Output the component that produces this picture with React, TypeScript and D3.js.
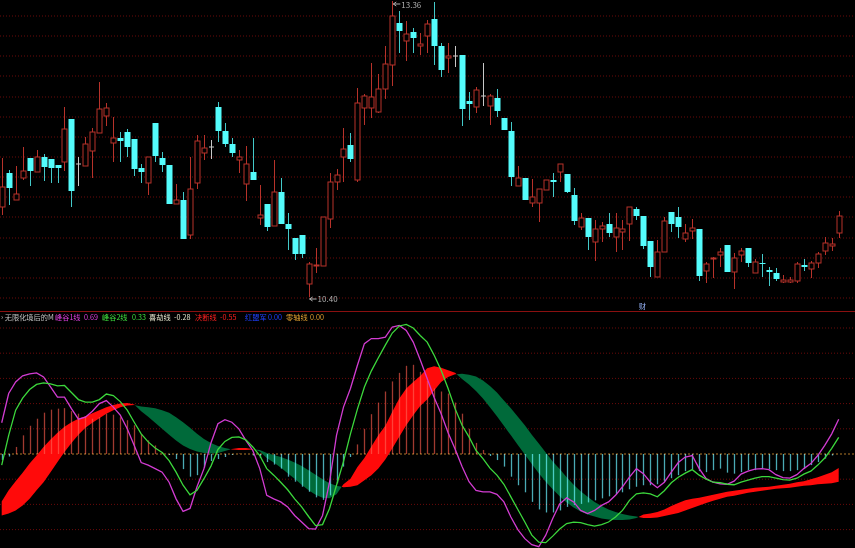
import React from 'react';
import * as d3 from 'd3';

const W = 855;
const H = 548;

// ---------- price candles (index 0..120) ----------
const openP = [
  11.30, 11.64, 11.37, 11.59, 11.79, 11.65, 11.80, 11.78, 11.72, 11.75,
  12.18, 11.73, 11.71, 11.86, 12.04, 12.21, 11.94, 11.99, 12.05, 11.98,
  11.69, 11.54, 12.14, 11.79, 11.72, 11.33, 11.37, 11.02, 11.54, 11.84,
  11.90, 12.30, 12.06, 11.93, 11.77, 11.53, 11.65, 11.19, 11.33, 11.11,
  11.45, 11.13, 10.99, 11.02, 10.53, 10.71, 10.71, 11.18, 11.55, 11.80,
  11.92, 11.57, 12.29, 12.29, 12.25, 12.48, 12.72, 13.14, 12.96, 13.05,
  12.91, 13.01, 13.18, 12.91, 12.79, 12.81, 12.82, 12.36, 12.30, 12.41,
  12.31, 12.39, 12.19, 12.06, 11.51, 11.59, 11.34, 11.34, 11.47, 11.57,
  11.65, 11.63, 11.42, 11.10, 11.19, 10.95, 11.08, 11.13, 11.00, 11.05,
  11.13, 11.28, 11.21, 10.96, 10.60, 10.85, 11.25, 11.20, 10.98, 11.06,
  11.08, 10.66, 10.78, 10.82, 10.92, 10.65, 10.82, 10.89, 10.64, 10.74,
  10.67, 10.64, 10.55, 10.55, 10.56, 10.72, 10.68, 10.74, 10.86, 10.91,
  11.04,
];
const closeP = [
  11.50, 11.49, 11.43, 11.66, 11.66, 11.80, 11.70, 11.69, 11.69, 12.08,
  11.46, 11.73, 11.93, 12.05, 12.28, 12.29, 11.99, 11.96, 11.90, 11.68,
  11.65, 11.80, 11.81, 11.72, 11.33, 11.37, 10.98, 11.48, 11.96, 11.89,
  11.90, 12.06, 11.93, 11.84, 11.80, 11.73, 11.57, 11.22, 11.10, 11.45,
  11.13, 11.08, 10.83, 10.83, 10.73, 10.72, 11.20, 11.55, 11.62, 11.88,
  11.78, 12.34, 12.41, 12.40, 12.48, 12.73, 13.21, 13.06, 13.03, 12.99,
  12.93, 13.13, 12.91, 12.67, 12.81, 12.81, 12.28, 12.33, 12.47, 12.41,
  12.41, 12.26, 12.07, 11.60, 11.59, 11.37, 11.40, 11.48, 11.57, 11.55,
  11.73, 11.45, 11.16, 11.19, 11.00, 11.08, 11.11, 11.04, 11.09, 11.08,
  11.30, 11.21, 10.91, 10.70, 10.85, 11.16, 11.13, 11.10, 11.04, 11.09,
  10.61, 10.73, 10.79, 10.85, 10.65, 10.79, 10.86, 10.74, 10.75, 10.73,
  10.65, 10.58, 10.57, 10.57, 10.73, 10.70, 10.74, 10.83, 10.94, 10.93,
  11.21,
];
const highP = [
  11.79, 11.67, 11.71, 11.90, 11.79, 11.87, 11.83, 11.78, 11.72, 12.30,
  12.18, 11.80, 12.00, 12.09, 12.55, 12.34, 12.20, 12.05, 12.08, 11.98,
  11.73, 11.80, 12.14, 11.85, 11.72, 11.53, 11.45, 11.80, 12.02, 12.02,
  11.97, 12.35, 12.14, 11.99, 11.87, 11.91, 11.99, 11.52, 11.33, 11.77,
  11.59, 11.24, 10.99, 11.02, 10.75, 10.89, 11.20, 11.64, 11.68, 12.09,
  12.04, 12.49, 12.43, 12.74, 12.63, 12.91, 13.36, 13.26, 13.16, 13.09,
  13.04, 13.17, 13.35, 12.94, 12.94, 12.91, 12.82, 12.45, 12.50, 12.74,
  12.43, 12.48, 12.19, 12.15, 11.71, 11.59, 11.58, 11.48, 11.57, 11.64,
  11.73, 11.63, 11.49, 11.24, 11.19, 11.17, 11.15, 11.24, 11.24, 11.17,
  11.30, 11.30, 11.21, 10.96, 10.97, 11.20, 11.25, 11.30, 11.13, 11.18,
  11.08, 10.75, 10.80, 10.89, 10.92, 10.84, 10.89, 10.89, 10.78, 10.83,
  10.70, 10.69, 10.62, 10.60, 10.75, 10.78, 10.76, 10.85, 11.00, 10.99,
  11.26,
];
const lowP = [
  11.22, 11.32, 11.37, 11.57, 11.51, 11.65, 11.56, 11.54, 11.54, 11.66,
  11.30, 11.51, 11.71, 11.59, 12.04, 12.11, 11.75, 11.75, 11.80, 11.61,
  11.54, 11.42, 11.75, 11.65, 11.33, 11.33, 10.98, 10.98, 11.48, 11.77,
  11.78, 11.95, 11.90, 11.80, 11.64, 11.36, 11.57, 11.12, 11.06, 11.11,
  11.13, 10.87, 10.77, 10.79, 10.40, 10.64, 10.71, 11.09, 11.47, 11.55,
  11.75, 11.55, 12.12, 12.19, 12.24, 12.38, 12.51, 12.84, 12.76, 12.84,
  12.82, 12.84, 12.72, 12.60, 12.64, 12.70, 12.11, 12.17, 12.24, 12.31,
  12.12, 12.20, 12.07, 11.51, 11.51, 11.37, 11.30, 11.15, 11.47, 11.40,
  11.55, 11.44, 11.12, 11.07, 10.87, 10.76, 10.95, 11.00, 10.85, 10.87,
  10.96, 11.17, 10.88, 10.60, 10.60, 10.85, 11.05, 10.99, 10.95, 10.98,
  10.56, 10.54, 10.59, 10.70, 10.65, 10.48, 10.75, 10.70, 10.64, 10.60,
  10.51, 10.56, 10.54, 10.54, 10.54, 10.66, 10.59, 10.69, 10.82, 10.86,
  10.99,
];

// price grid levels (dotted lines)
const priceGrid = [13.21, 13.01, 12.81, 12.61, 12.40, 12.20, 12.00, 11.80, 11.60, 11.40, 11.20, 10.99, 10.79, 10.59, 10.39];

// ---------- indicator (index 0..120) ----------
const peak1 = [
  0.62, 1.20, 1.43, 1.55, 1.59, 1.61, 1.53, 1.33, 1.13, 1.13,
  0.90, 0.69, 0.73, 0.85, 1.00, 1.06, 0.93, 0.77, 0.50, 0.17,
  -0.17, -0.22, -0.29, -0.36, -0.56, -0.89, -1.14, -1.08, -0.65, -0.29,
  0.22, 0.60, 0.68, 0.63, 0.50, 0.27, 0.07, -0.29, -0.82, -0.89,
  -0.95, -1.05, -1.22, -1.35, -1.48, -1.49, -1.22, -0.56, 0.37, 0.93,
  1.30, 1.76, 2.19, 2.29, 2.29, 2.32, 2.52, 2.55, 2.45, 2.22,
  1.87, 1.50, 1.12, 0.80, 0.42, 0.10, -0.25, -0.55, -0.72, -0.75,
  -0.75, -0.80, -0.95, -1.25, -1.50, -1.68, -1.80, -1.84, -1.61, -1.28,
  -0.99, -0.87, -0.95, -1.12, -1.18, -1.12, -1.02, -0.95, -0.82, -0.65,
  -0.46, -0.29, -0.39, -0.56, -0.67, -0.56, -0.36, -0.17, -0.06, -0.03,
  -0.29, -0.49, -0.56, -0.59, -0.60, -0.54, -0.40, -0.34, -0.30, -0.29,
  -0.31, -0.41, -0.47, -0.48, -0.41, -0.29, -0.19, -0.03, 0.17, 0.40,
  0.69,
];
const peak2 = [
  -0.22, 0.37, 0.87, 1.11, 1.28, 1.38, 1.41, 1.39, 1.35, 1.36,
  1.22, 1.08, 1.03, 1.03, 1.08, 1.19, 1.16, 1.04, 0.87, 0.63,
  0.40, 0.24, 0.12, 0.03, -0.13, -0.36, -0.62, -0.81, -0.72, -0.49,
  -0.24, 0.09, 0.25, 0.33, 0.34, 0.28, 0.14, -0.03, -0.29, -0.42,
  -0.56, -0.71, -0.89, -1.05, -1.24, -1.42, -1.40, -1.08, -0.62, -0.15,
  0.40, 0.89, 1.33, 1.65, 1.91, 2.16, 2.40, 2.54, 2.57, 2.50,
  2.35, 2.22, 1.96, 1.66, 1.30, 0.90, 0.57, 0.34, 0.07, -0.09,
  -0.28, -0.42, -0.60, -0.85, -1.10, -1.35, -1.61, -1.75, -1.76, -1.63,
  -1.49, -1.38, -1.35, -1.36, -1.40, -1.43, -1.40, -1.35, -1.25, -1.12,
  -0.92, -0.79, -0.77, -0.79, -0.85, -0.73, -0.57, -0.46, -0.38, -0.31,
  -0.42, -0.50, -0.56, -0.57, -0.60, -0.61, -0.56, -0.52, -0.48, -0.45,
  -0.45, -0.48, -0.51, -0.52, -0.48, -0.40, -0.34, -0.22, -0.08, 0.11,
  0.33,
];
const lineA = [
  -0.94, -0.72, -0.54, -0.37, -0.19, -0.03, 0.14, 0.29, 0.42, 0.54,
  0.63, 0.70, 0.75, 0.81, 0.87, 0.93, 0.97, 1.00, 1.01, 0.98,
  0.85, 0.74, 0.62, 0.50, 0.38, 0.27, 0.17, 0.10, 0.05, 0.02,
  0.01, 0.02, 0.06, 0.10, 0.12, 0.12, 0.10, 0.05, -0.08, -0.17,
  -0.27, -0.38, -0.49, -0.61, -0.72, -0.81, -0.87, -0.88, -0.80, -0.60,
  -0.49, -0.26, -0.08, 0.15, 0.37, 0.56, 0.84, 1.10, 1.30, 1.43,
  1.55, 1.70, 1.74, 1.71, 1.66, 1.61, 1.49, 1.38, 1.25, 1.10,
  0.93, 0.75, 0.56, 0.37, 0.18, -0.01, -0.20, -0.38, -0.55, -0.70,
  -0.84, -0.96, -1.06, -1.14, -1.20, -1.24, -1.28, -1.30, -1.31, -1.31,
  -1.30, -1.27, -1.20, -1.18, -1.15, -1.10, -1.03, -0.97, -0.92, -0.89,
  -0.87, -0.84, -0.81, -0.78, -0.75, -0.73, -0.71, -0.69, -0.67, -0.66,
  -0.65, -0.63, -0.61, -0.59, -0.56, -0.54, -0.50, -0.46, -0.41, -0.36,
  -0.28,
];
const lineB = [
  -1.22, -1.18, -1.12, -1.02, -0.89, -0.72, -0.56, -0.36, -0.16, 0.04,
  0.22, 0.38, 0.52, 0.62, 0.71, 0.80, 0.87, 0.93, 0.96, 0.97,
  0.94, 0.93, 0.91, 0.87, 0.82, 0.73, 0.63, 0.52, 0.40, 0.30,
  0.22, 0.16, 0.12, 0.09, 0.08, 0.08, 0.09, 0.08, 0.02, -0.02,
  -0.06, -0.11, -0.17, -0.24, -0.32, -0.41, -0.50, -0.58, -0.63, -0.66,
  -0.65, -0.62, -0.52, -0.42, -0.29, -0.11, 0.11, 0.34, 0.57, 0.77,
  0.95, 1.08, 1.26, 1.43, 1.53, 1.58, 1.59, 1.57, 1.54, 1.46,
  1.35, 1.22, 1.06, 0.91, 0.74, 0.57, 0.38, 0.21, 0.03, -0.15,
  -0.30, -0.46, -0.61, -0.74, -0.85, -0.95, -1.03, -1.10, -1.15, -1.19,
  -1.22, -1.24, -1.27, -1.27, -1.26, -1.23, -1.20, -1.17, -1.12, -1.07,
  -1.02, -0.97, -0.93, -0.89, -0.85, -0.83, -0.80, -0.77, -0.75, -0.73,
  -0.71, -0.69, -0.68, -0.67, -0.65, -0.63, -0.62, -0.60, -0.59, -0.58,
  -0.55,
];
const histo = [
  -0.12, -0.05, 0.14, 0.37, 0.56, 0.70, 0.82, 0.88, 0.90, 0.91,
  0.85, 0.80, 0.75, 0.70, 0.73, 0.80, 0.78, 0.73, 0.67, 0.57,
  0.40, 0.27, 0.17, 0.04, -0.02, -0.10, -0.30, -0.45, -0.42, -0.27,
  -0.14, -0.10, -0.06, -0.02, 0.01, 0.00, -0.03, -0.08, -0.16, -0.21,
  -0.29, -0.45, -0.55, -0.65, -0.75, -0.86, -0.91, -0.82, -0.58, -0.25,
  -0.06, 0.19, 0.50, 0.79, 1.02, 1.24, 1.44, 1.61, 1.75, 1.77,
  1.63, 1.45, 1.30, 1.24, 1.20, 1.02, 0.80, 0.50, 0.22, 0.08,
  -0.04, -0.12, -0.25, -0.45, -0.62, -0.76, -0.95, -1.10, -1.16, -1.16,
  -1.12, -1.05, -1.01, -0.99, -0.96, -0.92, -0.88, -0.84, -0.80, -0.76,
  -0.70, -0.65, -0.62, -0.62, -0.60, -0.55, -0.48, -0.42, -0.34, -0.30,
  -0.34, -0.36, -0.32, -0.29, -0.37, -0.39, -0.36, -0.32, -0.32, -0.29,
  -0.30, -0.32, -0.34, -0.34, -0.32, -0.29, -0.22, -0.16, -0.09, -0.03,
  0.00,
];
const indGrid = [2.5, 2.0, 1.5, 1.0, 0.5, -0.5, -1.0, -1.5];

// legend
const legendTitle = '无限化境后的M';
const legendLabels = ['峰谷1线', '峰谷2线', '喜劫线', '决断线', '红盟军', '零轴线'];
const legendValues = ['0.69', '0.33', '-0.28', '-0.55', '0.00', '0.00'];
const legendColors = ['#e040e0', '#3ee03e', '#e8e8d0', '#ff2020', '#2040ff', '#e0a030'];
const legendLabelX = [55, 102, 149, 195, 245, 286];
const legendValueX = [84, 132, 174, 220, 268, 310];

const maxLabel = '13.36';
const minLabel = '10.40';

const UP = '#b8322a';
const DOWN = '#54fcfc';
const FLAT = '#c8c8c8';

export default function App() {
  const n = openP.length;
  const x = d3.scaleLinear().domain([0, n - 1]).range([1.7, 838.7]);
  const yP = d3.scaleLinear().domain([10.40, 13.36]).range([297, 1]);
  const yI = d3.scaleLinear().domain([0, 2.5]).range([454, 328]);
  const bw = 5;

  const hiIdx = d3.maxIndex(highP);
  const loIdx = d3.minIndex(lowP);

  // ribbon with crossing points
  type R = { t: number; a: number; b: number };
  const rib: R[] = [];
  for (let i = 0; i < n; i++) {
    rib.push({ t: i, a: lineA[i], b: lineB[i] });
    if (i < n - 1) {
      const d0 = lineA[i] - lineB[i];
      const d1 = lineA[i + 1] - lineB[i + 1];
      if (d0 * d1 < 0) {
        const f = d0 / (d0 - d1);
        const v = lineA[i] + f * (lineA[i + 1] - lineA[i]);
        rib.push({ t: i + f, a: v, b: v });
      }
    }
  }
  const redArea = d3
    .area<R>()
    .x((d) => x(d.t))
    .y0((d) => yI(d.b))
    .y1((d) => yI(Math.max(d.a, d.b)));
  const greenArea = d3
    .area<R>()
    .x((d) => x(d.t))
    .y0((d) => yI(d.a))
    .y1((d) => yI(Math.max(d.a, d.b)));

  const idx = d3.range(n);
  const magLine = d3.line<number>().x((i) => x(i)).y((i) => yI(peak1[i]));
  const grnLine = d3.line<number>().x((i) => x(i)).y((i) => yI(peak2[i]));

  const font = '"Noto Sans CJK SC", "Noto Sans", sans-serif';

  return (
    <svg
      width={W}
      height={H}
      viewBox={`0 0 ${W} ${H}`}
      style={{ position: 'absolute', left: 0, top: 0, background: '#000', display: 'block' }}
    >
      <rect x={0} y={0} width={W} height={H} fill="#000" />
      {/* price grid */}
      {priceGrid.map((p, k) => (
        <line key={'pg' + k} x1={0} x2={W} y1={yP(p)} y2={yP(p)} stroke="#6a0a0a" strokeWidth={1} strokeDasharray="1,2" />
      ))}
      {/* candles */}
      {idx.map((i) => {
        const o = openP[i];
        const c = closeP[i];
        const col = c > o ? UP : c < o ? DOWN : FLAT;
        const cx = Math.round(x(i)) + 0.5;
        const top = yP(Math.max(o, c));
        const bot = yP(Math.min(o, c));
        const h = Math.max(1, bot - top);
        return (
          <g key={'c' + i}>
            <line x1={cx} x2={cx} y1={yP(highP[i])} y2={yP(lowP[i])} stroke={col} strokeWidth={1} opacity={c < o ? 0.8 : 1} />
            {c > o ? (
              <rect x={cx - bw / 2} y={top} width={bw} height={h} fill="#000" stroke={col} strokeWidth={1} />
            ) : c < o ? (
              <rect x={cx - bw / 2 - 0.5} y={top} width={bw + 1} height={h} fill={col} />
            ) : (
              <line x1={cx - bw / 2} x2={cx + bw / 2} y1={top} y2={top} stroke={col} strokeWidth={1} />
            )}
          </g>
        );
      })}
      {/* extreme labels */}
      <g fill="#b0b0b0" fontFamily={font} fontSize={8}>
        <line x1={x(hiIdx) + 1} x2={x(hiIdx) + 8} y1={yP(highP[hiIdx]) + 3} y2={yP(highP[hiIdx]) + 3} stroke="#b0b0b0" />
        <path d={`M${x(hiIdx) + 1},${yP(highP[hiIdx]) + 3} l3,-2 M${x(hiIdx) + 1},${yP(highP[hiIdx]) + 3} l3,2`} stroke="#b0b0b0" fill="none" />
        <text x={x(hiIdx) + 9} y={yP(highP[hiIdx]) + 7}>{maxLabel}</text>
        <line x1={x(loIdx) + 1} x2={x(loIdx) + 8} y1={yP(lowP[loIdx]) + 2} y2={yP(lowP[loIdx]) + 2} stroke="#b0b0b0" />
        <path d={`M${x(loIdx) + 1},${yP(lowP[loIdx]) + 2} l3,-2 M${x(loIdx) + 1},${yP(lowP[loIdx]) + 2} l3,2`} stroke="#b0b0b0" fill="none" />
        <text x={x(loIdx) + 9} y={yP(lowP[loIdx]) + 5}>{minLabel}</text>
      </g>
      <text x={639} y={309} fontSize={7} fill="#9ab8ff" fontFamily={font}>财</text>
      {/* separator */}
      <line x1={0} x2={W} y1={311.5} y2={311.5} stroke="#8a1010" strokeWidth={1} />
      {/* legend */}
      <g fontFamily={font} fontSize={7.2}>
        <text x={1} y={320} fill="#c0c0c0">{'› ' + legendTitle}</text>
        {legendLabels.map((l, k) => (
          <g key={'lg' + k}>
            <text x={legendLabelX[k]} y={320} fill={legendColors[k]}>{l}</text>
            <text x={legendValueX[k]} y={320} fill={legendColors[k]}>{legendValues[k]}</text>
          </g>
        ))}
      </g>
      {/* indicator grid */}
      {indGrid.map((v, k) => (
        <line key={'ig' + k} x1={0} x2={W} y1={yI(v)} y2={yI(v)} stroke="#6a0a0a" strokeWidth={1} strokeDasharray="1,2" />
      ))}
      <line x1={0} x2={W} y1={yI(0)} y2={yI(0)} stroke="#b07828" strokeWidth={1} strokeDasharray="2,2" />
      {/* ribbon */}
      <path d={redArea(rib) || ''} fill="#ff0a0a" />
      <path d={greenArea(rib) || ''} fill="#006a3a" />
      {/* histogram */}
      <g style={{ mixBlendMode: 'screen' }}>
        {idx.map((i) => (
          <line
            key={'h' + i}
            x1={Math.round(x(i)) + 0.5}
            x2={Math.round(x(i)) + 0.5}
            y1={yI(0)}
            y2={yI(histo[i])}
            stroke={histo[i] >= 0 ? '#a03a30' : '#4aaab4'}
            strokeWidth={1.3}
          />
        ))}
      </g>
      {/* lines */}
      <path d={magLine(idx) || ''} fill="none" stroke="#d23cd2" strokeWidth={1.3} />
      <path d={grnLine(idx) || ''} fill="none" stroke="#3cd83c" strokeWidth={1.3} />
    </svg>
  );
}
